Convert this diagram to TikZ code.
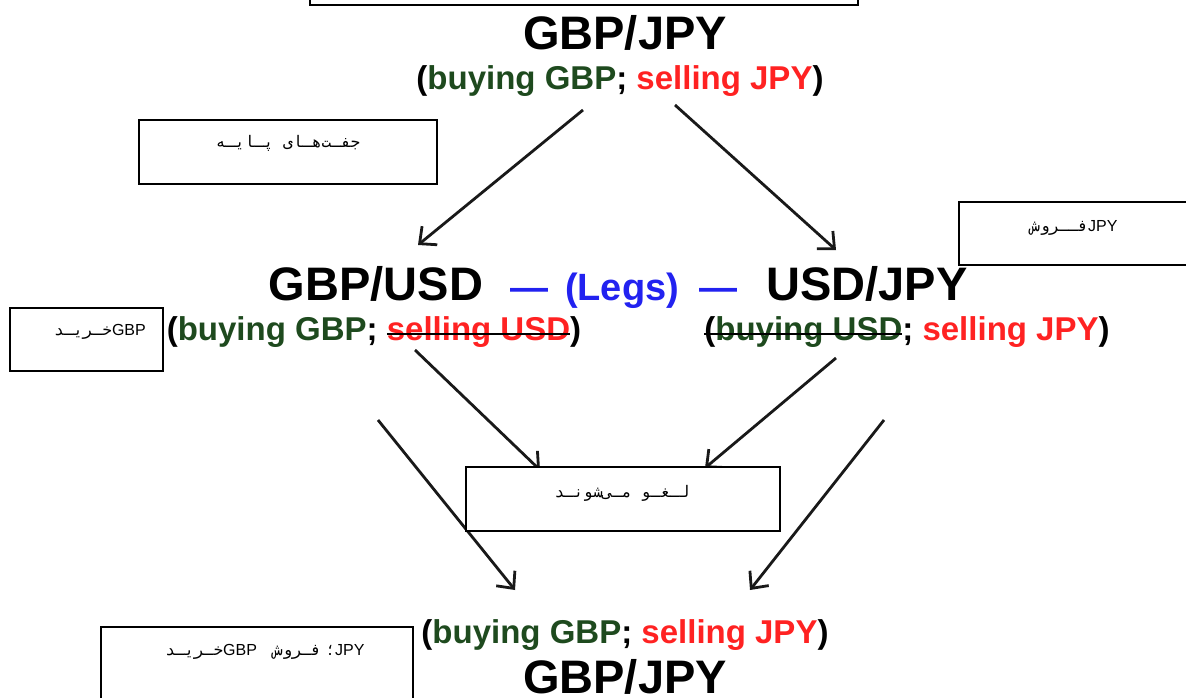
\documentclass[tikz,border=0pt]{standalone}
\usepackage{fontspec}
\setmainfont{Liberation Sans}
\newfontfamily\arabicfont[Script=Arabic]{DejaVu Sans Mono}
\TeXXeTstate=1
\usetikzlibrary{arrows.meta}
\definecolor{dgreen}{HTML}{1E4A1E}
\definecolor{bred}{HTML}{FF2222}
\definecolor{bblue}{HTML}{2222F0}
\newsavebox\mystrikebox
\newcommand\blkstrike[1]{\sbox\mystrikebox{#1}\rlap{\usebox\mystrikebox}\textcolor{black}{\rule[0.28ex]{\wd\mystrikebox}{2.6pt}}}
\begin{document}
\begin{tikzpicture}[x=1pt,y=-1pt,
  titlesty/.style={font=\fontsize{47}{50}\selectfont\bfseries, inner sep=0pt, anchor=base},
  substy/.style={font=\fontsize{33}{36}\selectfont\bfseries, inner sep=0pt, anchor=base},
  legsty/.style={font=\fontsize{38}{40}\selectfont\bfseries, text=bblue, inner sep=0pt, anchor=base},
  tbox/.style={draw=black, line width=2pt, fill=white, inner sep=0pt},
  btext/.style={font=\fontsize{16}{18}\selectfont, inner sep=0pt},
  arr/.style={draw=black!90, line width=2.8pt, -{Straight Barb[length=13pt,width=24pt,line width=2.8pt]}}]
\useasboundingbox (0,0) rectangle (1186,698);

% top box (cut off)
\node[tbox, minimum width=548pt, minimum height=50pt] (topbox) at (584,-20) {};

% titles
\node[titlesty] (t1) at (625,50) {GBP/JPY};
\node[substy] (s1) at (620,90) {(\textcolor{dgreen}{buying GBP}; \textcolor{bred}{selling JPY})};

\node[titlesty] (gu) at (376,300) {GBP/USD};
\node[legsty] (d1) at (529,300) {—};
\node[legsty] (lg) at (622,300) {(Legs)};
\node[legsty] (d2) at (718,300) {—};
\node[titlesty] (uj) at (867,300) {USD/JPY};

\node[substy] (sl) at (374,340) {(\textcolor{dgreen}{buying GBP}; \blkstrike{\textcolor{bred}{selling USD}})};
\node[substy] (sr) at (907,340) {\blkstrike{(\textcolor{dgreen}{buying USD}}; \textcolor{bred}{selling JPY})};

\node[substy] (s2) at (625,643) {(\textcolor{dgreen}{buying GBP}; \textcolor{bred}{selling JPY})};
\node[titlesty] (t2) at (625,693) {GBP/JPY};

% arrow end points
\coordinate (a1s) at (583,110); \coordinate (a1e) at (418,245);
\coordinate (a2s) at (675,105); \coordinate (a2e) at (836,250);
\coordinate (a3s) at (415,350); \coordinate (a3e) at (540,470);
\coordinate (a4s) at (836,358); \coordinate (a4e) at (705,468);
\coordinate (a5s) at (378,420); \coordinate (a5e) at (515,590);
\coordinate (a6s) at (884,420); \coordinate (a6e) at (750,590);
\draw[arr] (a1s) -- (a1e);
\draw[arr] (a2s) -- (a2e);
\draw[arr] (a3s) -- (a3e);
\draw[arr] (a4s) -- (a4e);
\draw[arr] (a5s) -- (a5e);
\draw[arr] (a6s) -- (a6e);

% annotation boxes
\node[tbox, minimum width=298pt, minimum height=64pt] (b1) at (288,152) {};
\node[btext] (b1t) at (288,143) {\arabicfont\beginR جفـت‌هـای پـایـه\endR};

\node[tbox, minimum width=231pt, minimum height=63pt] (b2) at (1074.5,233.5) {};
\node[btext] (b2t) at (1074,228) {{\arabicfont\beginR فــروش\endR}JPY};

\node[tbox, minimum width=153pt, minimum height=63pt] (b3) at (86.5,339.5) {};
\node[btext] (b3t) at (100,332) {{\arabicfont\beginR خـریـد\endR}GBP};

\node[tbox, minimum width=314pt, minimum height=64pt] (b4) at (623,499) {};
\node[btext] (b4t) at (622,493) {\arabicfont\beginR لـغـو مـی‌شونـد\endR};

\node[tbox, minimum width=312pt, minimum height=82pt] (b5) at (257,668) {};
\node[btext] (b5t) at (265,652) {{\arabicfont\beginR خـریـد\endR}GBP\quad{\arabicfont\beginR فـروش\endR}\ {\arabicfont ؛}JPY};
\end{tikzpicture}
\end{document}
